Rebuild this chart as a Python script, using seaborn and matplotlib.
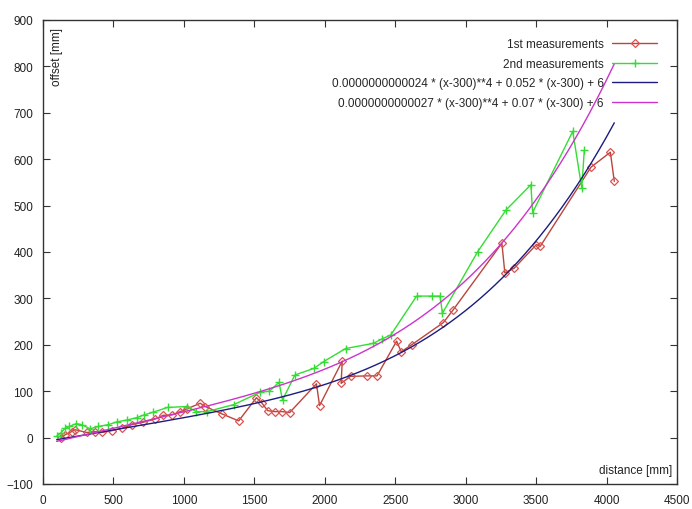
import numpy as np
import pandas as pd
import matplotlib
matplotlib.use("Agg")
import matplotlib.pyplot as plt
import seaborn as sns

# First measurement run (distance, offset) in mm, in recorded order
first_x = [126, 156, 204, 228, 311, 370, 417, 489, 560, 631, 711, 796, 853, 915,
           974, 1022, 1116, 1152, 1271, 1389, 1515, 1555, 1595, 1645, 1697, 1751,
           1941, 1963, 2124, 2116, 2183, 2300, 2371, 2510, 2542, 2617, 2842, 2913,
           3257, 3278, 3344, 3502, 3529, 3890, 4027, 4055]
first_y = [-1, 6, 13, 17, 11, 13, 11, 15, 20, 28, 33, 40, 48, 49,
           56, 62, 74, 67, 51, 36, 86, 74, 58, 56, 56, 54,
           116, 69, 165, 117, 132, 133, 133, 208, 185, 200, 248, 276,
           419, 355, 365, 416, 412, 583, 615, 552]

# Second measurement run
second_x = [97, 126, 156, 187, 235, 275, 334, 393, 464, 526, 597, 666, 718, 784,
            884, 1022, 1088, 1163, 1353, 1543, 1607, 1675, 1700, 1788, 1922, 1993,
            2148, 2343, 2408, 2468, 2652, 2764, 2818, 2835, 3084, 3285, 3463, 3475,
            3760, 3824, 3842]
second_y = [3, 10, 20, 24, 30, 28, 19, 24, 28, 34, 38, 43, 49, 55,
            65, 67, 56, 56, 71, 98, 100, 119, 81, 135, 149, 164,
            192, 203, 213, 221, 305, 305, 305, 268, 400, 490, 545, 485,
            660, 538, 619]

# Quartic-plus-linear fit coefficients: a * (x-300)**4 + b * (x-300) + c
fit1 = (0.0000000000024, 0.052, 6)
fit2 = (0.0000000000027, 0.07, 6)
fit1_label = "0.0000000000024 * (x-300)**4 + 0.052 * (x-300) + 6"
fit2_label = "0.0000000000027 * (x-300)**4 + 0.07 * (x-300) + 6"

x_ticks = list(range(0, 4501, 500))
y_ticks = list(range(-100, 901, 100))

sns.set_theme(style="white")
plt.rcParams["font.family"] = ["Liberation Sans", "DejaVu Sans"]
plt.rcParams["xtick.direction"] = "in"
plt.rcParams["ytick.direction"] = "in"

fig = plt.figure(figsize=(6.92, 5.10), dpi=100)
ax = fig.add_axes([43 / 692, 1 - 485 / 510, 634 / 692, 464 / 510])

red = "#b8463c"
green = "#33dd33"
blue = "#1c1c80"
magenta = "#cc33cc"

df1 = pd.DataFrame({"distance": first_x, "offset": first_y})
df2 = pd.DataFrame({"distance": second_x, "offset": second_y})

sns.lineplot(data=df1, x="distance", y="offset", ax=ax, sort=False, estimator=None,
             color=red, lw=1.0, marker="D", markersize=4.5,
             markerfacecolor="none", markeredgecolor="#d9534f", markeredgewidth=0.9,
             label="1st measurements")
sns.lineplot(data=df2, x="distance", y="offset", ax=ax, sort=False, estimator=None,
             color=green, lw=1.0, marker="+", markersize=5.5,
             markeredgecolor=green, markeredgewidth=1.0,
             label="2nd measurements")

all_x = first_x + second_x
xs = np.linspace(min(all_x), max(all_x), 300)
for (a, b, c), col, lab in [(fit1, blue, fit1_label), (fit2, magenta, fit2_label)]:
    fit_df = pd.DataFrame({"distance": xs, "offset": a * (xs - 300) ** 4 + b * (xs - 300) + c})
    sns.lineplot(data=fit_df, x="distance", y="offset", ax=ax, sort=False,
                 estimator=None, color=col, lw=1.0, label=lab)

ax.set_xlim(0, 4500)
ax.set_ylim(-100, 900)
ax.set_xticks(x_ticks)
ax.set_yticks(y_ticks)
ax.set_xlabel("")
ax.set_ylabel("")
ax.tick_params(axis="both", which="both", direction="in", length=5, width=0.8,
               color="#333333", labelsize=8.5, labelcolor="#222222",
               top=True, right=True, bottom=True, left=True, pad=7)
for s in ax.spines.values():
    s.set_color("#333333")
    s.set_linewidth(1.0)

ax.text(0.012, 0.985, "offset [mm]", transform=ax.transAxes, rotation=90,
        ha="left", va="top", fontsize=8.5, color="#222222")
ax.text(0.992, 0.018, "distance [mm]", transform=ax.transAxes,
        ha="right", va="bottom", fontsize=8.5, color="#222222")

ax.legend(loc="upper right", bbox_to_anchor=((657 - 43) / 634, (485 - 39) / 464),
          frameon=False, markerfirst=False, fontsize=8.5, handlelength=3.8,
          handletextpad=0.7, labelspacing=0.65, borderpad=0, borderaxespad=0)

fig.savefig("out.png", dpi=100)
